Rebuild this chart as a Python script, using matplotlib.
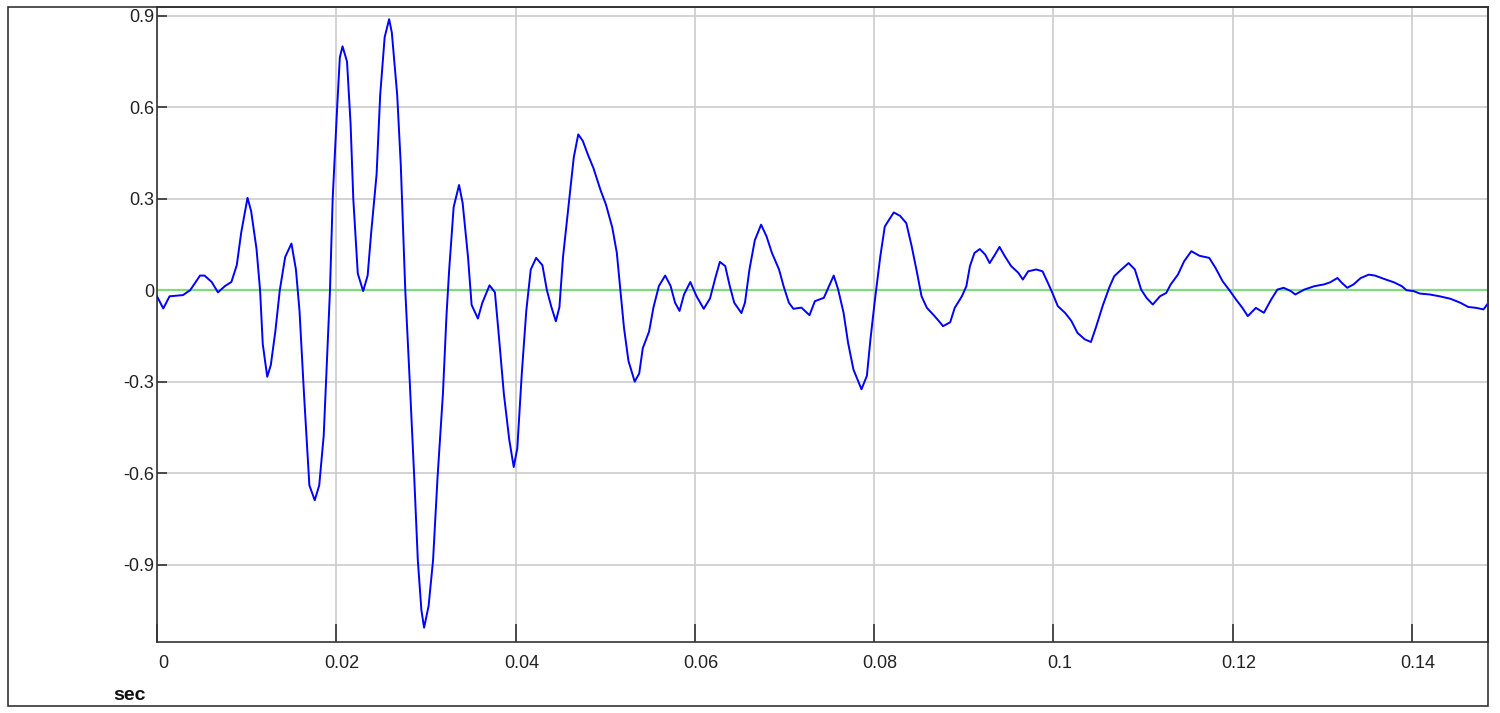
import matplotlib
matplotlib.use("Agg")
import matplotlib.pyplot as plt
from matplotlib.patches import Rectangle
from matplotlib.transforms import ScaledTranslation

plt.rcParams['font.family'] = ['Liberation Sans', 'DejaVu Sans']

# waveform (time in s, amplitude)
t = [0.0000, 0.0007, 0.0014, 0.0029, 0.0037, 0.0048, 0.0053, 0.0061, 0.0068, 0.0076,
     0.0083, 0.0089, 0.0094, 0.0101, 0.0105, 0.0111, 0.0115, 0.0118, 0.0123, 0.0127,
     0.0132, 0.0137, 0.0143, 0.0150, 0.0155, 0.0159, 0.0164, 0.0170, 0.0176, 0.0181,
     0.0186, 0.0190, 0.0193, 0.0196, 0.0201, 0.0204, 0.0207, 0.0212, 0.0216, 0.0219,
     0.0224, 0.0230, 0.0235, 0.0239, 0.0245, 0.0249, 0.0254, 0.0259, 0.0262, 0.0268,
     0.0272, 0.0277, 0.0282, 0.0287, 0.0291, 0.0295, 0.0298, 0.0303, 0.0308, 0.0313,
     0.0319, 0.0323, 0.0326, 0.0331, 0.0337, 0.0341, 0.0347, 0.0351, 0.0358, 0.0363,
     0.0371, 0.0377, 0.0381, 0.0387, 0.0393, 0.0398, 0.0402, 0.0407, 0.0412, 0.0417,
     0.0423, 0.0430, 0.0435, 0.0440, 0.0445, 0.0449, 0.0453, 0.0457, 0.0461, 0.0465,
     0.0470, 0.0475, 0.0481, 0.0487, 0.0495, 0.0501, 0.0508, 0.0513, 0.0517, 0.0521,
     0.0526, 0.0533, 0.0538, 0.0542, 0.0549, 0.0554, 0.0560, 0.0567, 0.0573, 0.0578,
     0.0583, 0.0588, 0.0595, 0.0602, 0.0610, 0.0617, 0.0623, 0.0628, 0.0634, 0.0639,
     0.0644, 0.0652, 0.0656, 0.0661, 0.0667, 0.0674, 0.0680, 0.0686, 0.0694, 0.0699,
     0.0705, 0.0710, 0.0719, 0.0728, 0.0734, 0.0744, 0.0749, 0.0755, 0.0760, 0.0766,
     0.0771, 0.0777, 0.0786, 0.0792, 0.0796, 0.0801, 0.0807, 0.0812, 0.0822, 0.0829,
     0.0836, 0.0842, 0.0848, 0.0853, 0.0859, 0.0866, 0.0872, 0.0877, 0.0885, 0.0890,
     0.0898, 0.0903, 0.0907, 0.0912, 0.0918, 0.0924, 0.0929, 0.0935, 0.0940, 0.0946,
     0.0953, 0.0961, 0.0966, 0.0972, 0.0981, 0.0988, 0.0994, 0.0999, 0.1005, 0.1013,
     0.1020, 0.1027, 0.1035, 0.1042, 0.1048, 0.1055, 0.1063, 0.1068, 0.1076, 0.1084,
     0.1091, 0.1098, 0.1104, 0.1111, 0.1119, 0.1126, 0.1131, 0.1139, 0.1146, 0.1154,
     0.1163, 0.1174, 0.1181, 0.1189, 0.1196, 0.1204, 0.1211, 0.1217, 0.1226, 0.1235,
     0.1243, 0.1250, 0.1257, 0.1265, 0.1270, 0.1280, 0.1291, 0.1302, 0.1309, 0.1317,
     0.1322, 0.1328, 0.1335, 0.1343, 0.1352, 0.1359, 0.1369, 0.1380, 0.1389, 0.1394,
     0.1402, 0.1409, 0.1420, 0.1431, 0.1443, 0.1454, 0.1463, 0.1472, 0.1480, 0.1484]
v = [-0.020, -0.060, -0.020, -0.016, 0.000, 0.048, 0.048, 0.027, -0.007, 0.014,
     0.027, 0.082, 0.190, 0.303, 0.260, 0.136, 0.000, -0.177, -0.284, -0.245,
     -0.136, 0.000, 0.109, 0.153, 0.068, -0.068, -0.340, -0.640, -0.689, -0.640,
     -0.477, -0.205, 0.000, 0.300, 0.600, 0.764, 0.800, 0.750, 0.545, 0.300,
     0.055, -0.003, 0.048, 0.190, 0.380, 0.640, 0.830, 0.889, 0.845, 0.640,
     0.410, 0.000, -0.300, -0.614, -0.886, -1.050, -1.107, -1.036, -0.886, -0.614,
     -0.340, -0.082, 0.068, 0.273, 0.345, 0.286, 0.109, -0.048, -0.093, -0.041,
     0.016, -0.007, -0.136, -0.340, -0.490, -0.580, -0.518, -0.273, -0.068, 0.068,
     0.106, 0.082, 0.000, -0.055, -0.102, -0.055, 0.109, 0.218, 0.327, 0.436,
     0.511, 0.490, 0.443, 0.400, 0.327, 0.280, 0.205, 0.123, 0.000, -0.123,
     -0.232, -0.300, -0.273, -0.190, -0.136, -0.055, 0.014, 0.048, 0.014, -0.041,
     -0.068, -0.014, 0.027, -0.020, -0.061, -0.027, 0.041, 0.093, 0.079, 0.014,
     -0.041, -0.075, -0.041, 0.068, 0.164, 0.215, 0.177, 0.123, 0.068, 0.014,
     -0.041, -0.061, -0.057, -0.082, -0.036, -0.025, 0.008, 0.048, 0.002, -0.074,
     -0.172, -0.260, -0.325, -0.281, -0.161, -0.031, 0.111, 0.209, 0.255, 0.244,
     0.220, 0.144, 0.057, -0.020, -0.058, -0.080, -0.100, -0.118, -0.105, -0.058,
     -0.020, 0.013, 0.079, 0.122, 0.135, 0.117, 0.089, 0.117, 0.142, 0.111,
     0.079, 0.057, 0.035, 0.062, 0.068, 0.062, 0.024, -0.009, -0.052, -0.074,
     -0.100, -0.140, -0.161, -0.170, -0.118, -0.052, 0.013, 0.046, 0.068, 0.089,
     0.068, 0.002, -0.025, -0.047, -0.020, -0.009, 0.019, 0.051, 0.095, 0.128,
     0.113, 0.106, 0.073, 0.029, 0.002, -0.031, -0.058, -0.085, -0.058, -0.074,
     -0.031, 0.002, 0.008, -0.003, -0.014, 0.002, 0.013, 0.019, 0.026, 0.040,
     0.024, 0.008, 0.019, 0.040, 0.051, 0.048, 0.037, 0.026, 0.013, 0.000,
     -0.003, -0.011, -0.014, -0.020, -0.028, -0.041, -0.055, -0.058, -0.063, -0.047]

x_ticks = [0, 0.02, 0.04, 0.06, 0.08, 0.1, 0.12, 0.14]
x_labels = ["0", "0.02", "0.04", "0.06", "0.08", "0.1", "0.12", "0.14"]
y_ticks = [-0.9, -0.6, -0.3, 0, 0.3, 0.6, 0.9]
y_labels = ["-0.9", "-0.6", "-0.3", "0", "0.3", "0.6", "0.9"]

fig = plt.figure(figsize=(15, 7.13), dpi=100)
ax = fig.add_axes([157/1500, 1 - 642/713, (1488-157)/1500, (642-7)/713])

ax.plot(t, v, color='#0000ff', linewidth=1.4, zorder=3)
ax.axhline(0, color='#7ddc7d', linewidth=1.6, zorder=2)

ax.set_xlim(0, 0.1485)
ax.set_ylim(-1.154, 0.929)
ax.set_xticks(x_ticks)
ax.set_xticklabels(x_labels)
ax.set_yticks(y_ticks)
ax.set_yticklabels(y_labels)
ax.grid(True, color='#cccccc', linewidth=1.2)
ax.set_axisbelow(True)

ax.tick_params(axis='x', direction='in', length=13, width=1.2, pad=9,
               labelsize=13, labelcolor='#222222', color='#333333')
ax.tick_params(axis='y', direction='in', length=7, width=1.2, pad=2,
               labelsize=13, labelcolor='#222222', color='#333333')
for lab in ax.get_xticklabels():
    lab.set_transform(lab.get_transform() + ScaledTranslation(0.06, 0, fig.dpi_scale_trans))

for s in ax.spines.values():
    s.set_color('#333333')
    s.set_linewidth(1.2)

fig.text(113/1500, 1 - 695/713, "sec", fontsize=14, fontweight='bold',
         ha='left', va='center', color='#111111')

# outer frame around the whole picture
fig.patches.append(Rectangle((8/1500, 1 - 706/713), (1488-8)/1500, (706-7)/713,
                             transform=fig.transFigure, fill=False,
                             edgecolor='#333333', linewidth=1.2))

fig.savefig("out.png", dpi=100)
